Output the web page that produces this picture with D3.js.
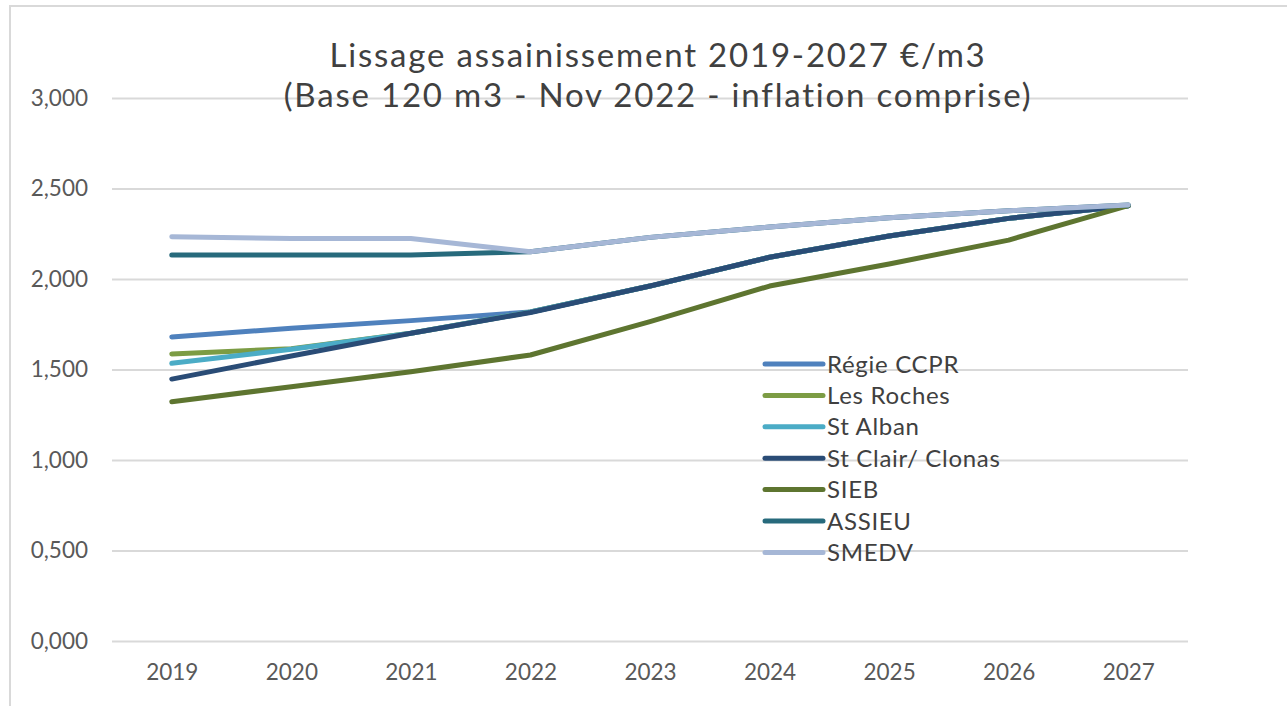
<!DOCTYPE html>
<html>
<head>
<meta charset="utf-8">
<script src="https://cdn.jsdelivr.net/npm/d3@7"></script>
<style>
  html, body { margin: 0; padding: 0; background: #fff; }
  svg { display: block; font-family: Lato, "Open Sans", sans-serif; }
</style>
</head>
<body>
<div id="chart"></div>
<script>
// data
const years = ["2019", "2020", "2021", "2022", "2023", "2024", "2025", "2026", "2027"];
const yTicks = [0, 0.5, 1, 1.5, 2, 2.5, 3];

const regieCCPR  = [1.680, 1.728, 1.770, 1.818, 1.961, 2.120, 2.238, 2.335, 2.405];
const lesRoches  = [1.586, 1.615, 1.700, 1.818, 1.961, 2.120, 2.238, 2.335, 2.405];
const stAlban    = [1.534, 1.612, 1.700, 1.818, 1.961, 2.120, 2.238, 2.335, 2.405];
const stClair    = [1.447, 1.575, 1.700, 1.815, 1.961, 2.120, 2.238, 2.335, 2.405];
const sieb       = [1.322, 1.405, 1.488, 1.580, 1.764, 1.961, 2.083, 2.215, 2.405];
const assieu     = [2.133, 2.133, 2.133, 2.151, 2.230, 2.287, 2.338, 2.377, 2.409];
const smedv      = [2.233, 2.224, 2.224, 2.151, 2.230, 2.287, 2.338, 2.377, 2.409];

const seriesNames = ["Régie CCPR", "Les Roches", "St Alban", "St Clair/ Clonas", "SIEB", "ASSIEU", "SMEDV"];
const seriesValues = [regieCCPR, lesRoches, stAlban, stClair, sieb, assieu, smedv];
const seriesColors = ["#4F81BD", "#7C9C44", "#4BACC6", "#2A4C76", "#5E7530", "#276A7C", "#A6B7D6"];

const W = 1287, H = 706;
const plot = { left: 112, right: 1188, top: 98, bottom: 641 };

const svg = d3.select("#chart").append("svg")
    .attr("width", W)
    .attr("height", H);

// chart frame (only top/left visible in the crop)
svg.append("rect")
    .attr("x", 10).attr("y", 6)
    .attr("width", W + 20).attr("height", H + 20)
    .attr("fill", "none")
    .attr("stroke", "#D9D9D9")
    .attr("stroke-width", 2);

const x = d3.scalePoint()
    .domain(years)
    .range([plot.left, plot.right])
    .padding(0.5);

const y = d3.scaleLinear()
    .domain([0, 3])
    .range([plot.bottom, plot.top]);

const fmt = v => d3.format(",.3f")(v).replace(".", ",");

// gridlines + y labels
const yAxis = svg.append("g")
    .attr("transform", `translate(${plot.left},0)`)
    .call(d3.axisLeft(y).tickValues(yTicks).tickFormat(fmt)
        .tickSize(-(plot.right - plot.left)).tickPadding(24));
yAxis.select(".domain").remove();
yAxis.selectAll(".tick line").attr("stroke", "#D9D9D9").attr("stroke-width", 2);
yAxis.selectAll(".tick text")
    .attr("fill", "#595959")
    .attr("font-size", 22.5)
    .attr("font-family", "Lato, sans-serif");

// x labels
const xAxis = svg.append("g")
    .attr("transform", `translate(0,${plot.bottom})`)
    .call(d3.axisBottom(x).tickSize(0).tickPadding(23));
xAxis.select(".domain").remove();
xAxis.selectAll(".tick text")
    .attr("fill", "#595959")
    .attr("font-size", 22.5)
    .attr("font-family", "Lato, sans-serif");

// lines
const line = d3.line()
    .x((d, i) => x(years[i]))
    .y(d => y(d));

svg.append("g")
    .selectAll("path")
    .data(seriesValues)
    .enter()
    .append("path")
    .attr("d", line)
    .attr("fill", "none")
    .attr("stroke", (d, i) => seriesColors[i])
    .attr("stroke-width", 5)
    .attr("stroke-linecap", "round")
    .attr("stroke-linejoin", "round");

// title
const title = svg.append("text")
    .attr("text-anchor", "middle")
    .attr("fill", "#404040")
    .attr("font-size", 33)
    .attr("letter-spacing", 1.8);
title.append("tspan").attr("x", 658).attr("y", 67).text("Lissage assainissement  2019-2027 €/m3");
title.append("tspan").attr("x", 658).attr("y", 107).text("(Base 120 m3 - Nov 2022 - inflation comprise)");

// legend
const legend = svg.append("g").attr("transform", "translate(765,364)");
const items = legend.selectAll("g")
    .data(seriesNames)
    .enter()
    .append("g")
    .attr("transform", (d, i) => `translate(0,${i * 31.4})`);
items.append("line")
    .attr("x1", 0).attr("x2", 58)
    .attr("stroke", (d, i) => seriesColors[i])
    .attr("stroke-width", 5)
    .attr("stroke-linecap", "round");
items.append("text")
    .attr("x", 62)
    .attr("dy", "0.36em")
    .attr("fill", "#404040")
    .attr("font-size", 24)
    .attr("letter-spacing", 0.7)
    .text(d => d);
</script>
</body>
</html>
